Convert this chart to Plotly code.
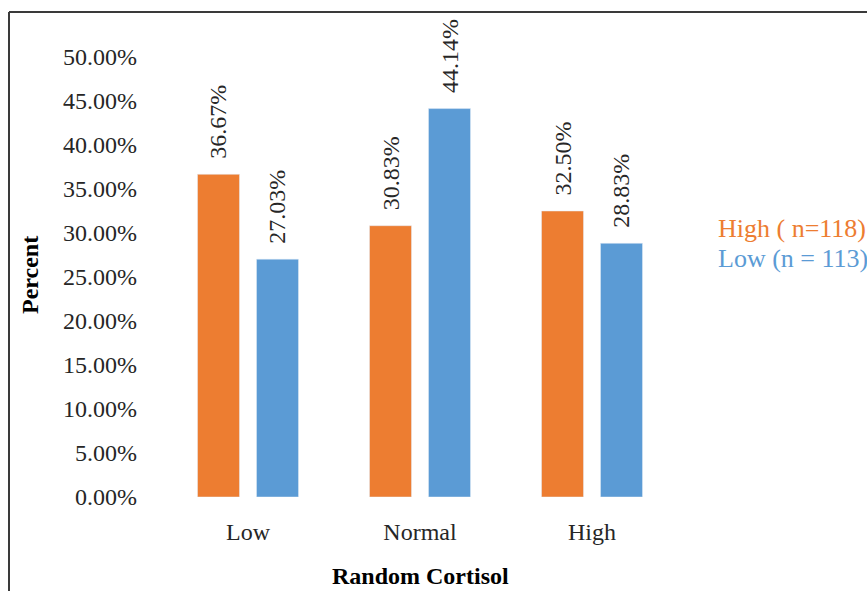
import plotly.graph_objects as go

categories = ["Low", "Normal", "High"]
high_group = [36.67, 30.83, 32.50]   # High ( n=118)
low_group = [27.03, 44.14, 28.83]    # Low (n = 113)
y_ticks = [0, 5, 10, 15, 20, 25, 30, 35, 40, 45, 50]

ORANGE = "#ED7D31"
BLUE = "#5B9BD5"
TEXT = "#262626"
FONT = "Liberation Serif"
FS = 24

W, H = 867, 591
L, R, T, B = 162, 189, 57, 94
plot_w = W - L - R
plot_h = H - T - B

fig = go.Figure()
fig.add_trace(go.Bar(x=categories, y=high_group, marker_color=ORANGE,
                     name="High ( n=118)", showlegend=False))
fig.add_trace(go.Bar(x=categories, y=low_group, marker_color=BLUE,
                     name="Low (n = 113)", showlegend=False))

# value labels above each bar, rotated
slot = 59
annotations = []
for vals, shift in ((high_group, -slot / 2), (low_group, slot / 2)):
    for c, v in zip(categories, vals):
        annotations.append(dict(
            x=c, y=v, xref="x", yref="y", text=f"{v:.2f}%",
            textangle=-90, showarrow=False, xshift=shift,
            xanchor="center", yanchor="bottom", yshift=13,
            font=dict(family=FONT, size=FS, color=TEXT)))

# axis titles
annotations.append(dict(
    x=(30 - L) / plot_w, y=(H - B - 275) / plot_h, xref="paper", yref="paper",
    text="<b>Percent</b>", textangle=-90, showarrow=False,
    xanchor="center", yanchor="middle",
    font=dict(family=FONT, size=FS, color="#000000")))
annotations.append(dict(
    x=(420 - L) / plot_w, y=(H - B - 576) / plot_h, xref="paper", yref="paper",
    text="<b>Random Cortisol</b>", showarrow=False,
    xanchor="center", yanchor="middle",
    font=dict(family=FONT, size=FS, color="#000000")))

# legend entries as coloured text
for name, color, ypix in (("High ( n=118)", ORANGE, 228), ("Low (n = 113)", BLUE, 258)):
    annotations.append(dict(
        x=(716 - L) / plot_w, y=(H - B - ypix) / plot_h, xref="paper", yref="paper",
        text=name, showarrow=False, xanchor="left", yanchor="middle",
        font=dict(family=FONT, size=26, color=color)))

# chart frame (left and top edges visible)
fx0 = (9 - L) / plot_w
fy1 = (H - B - 12) / plot_h
shapes = [
    dict(type="line", xref="paper", yref="paper", x0=fx0, x1=fx0,
         y0=fy1, y1=-0.5, line=dict(color="#3a3a3a", width=2)),
    dict(type="line", xref="paper", yref="paper", x0=fx0, x1=2,
         y0=fy1, y1=fy1, line=dict(color="#3a3a3a", width=2)),
]

fig.update_layout(
    width=W, height=H,
    margin=dict(l=L, r=R, t=T, b=B),
    paper_bgcolor="white", plot_bgcolor="white",
    barmode="group", bargap=0.314, bargroupgap=0.288,
    annotations=annotations, shapes=shapes,
    font=dict(family=FONT, size=FS, color=TEXT),
    xaxis=dict(showgrid=False, showline=False, zeroline=False, ticks="",
               ticklabelstandoff=18,
               tickfont=dict(family=FONT, size=FS, color=TEXT)),
    yaxis=dict(range=[0, 50], tickvals=y_ticks,
               ticktext=[f"{t:.2f}%" for t in y_ticks],
               showgrid=False, showline=False, zeroline=False, ticks="",
               ticklabelstandoff=24,
               tickfont=dict(family=FONT, size=FS, color=TEXT)),
)

fig.write_html("out.html")
